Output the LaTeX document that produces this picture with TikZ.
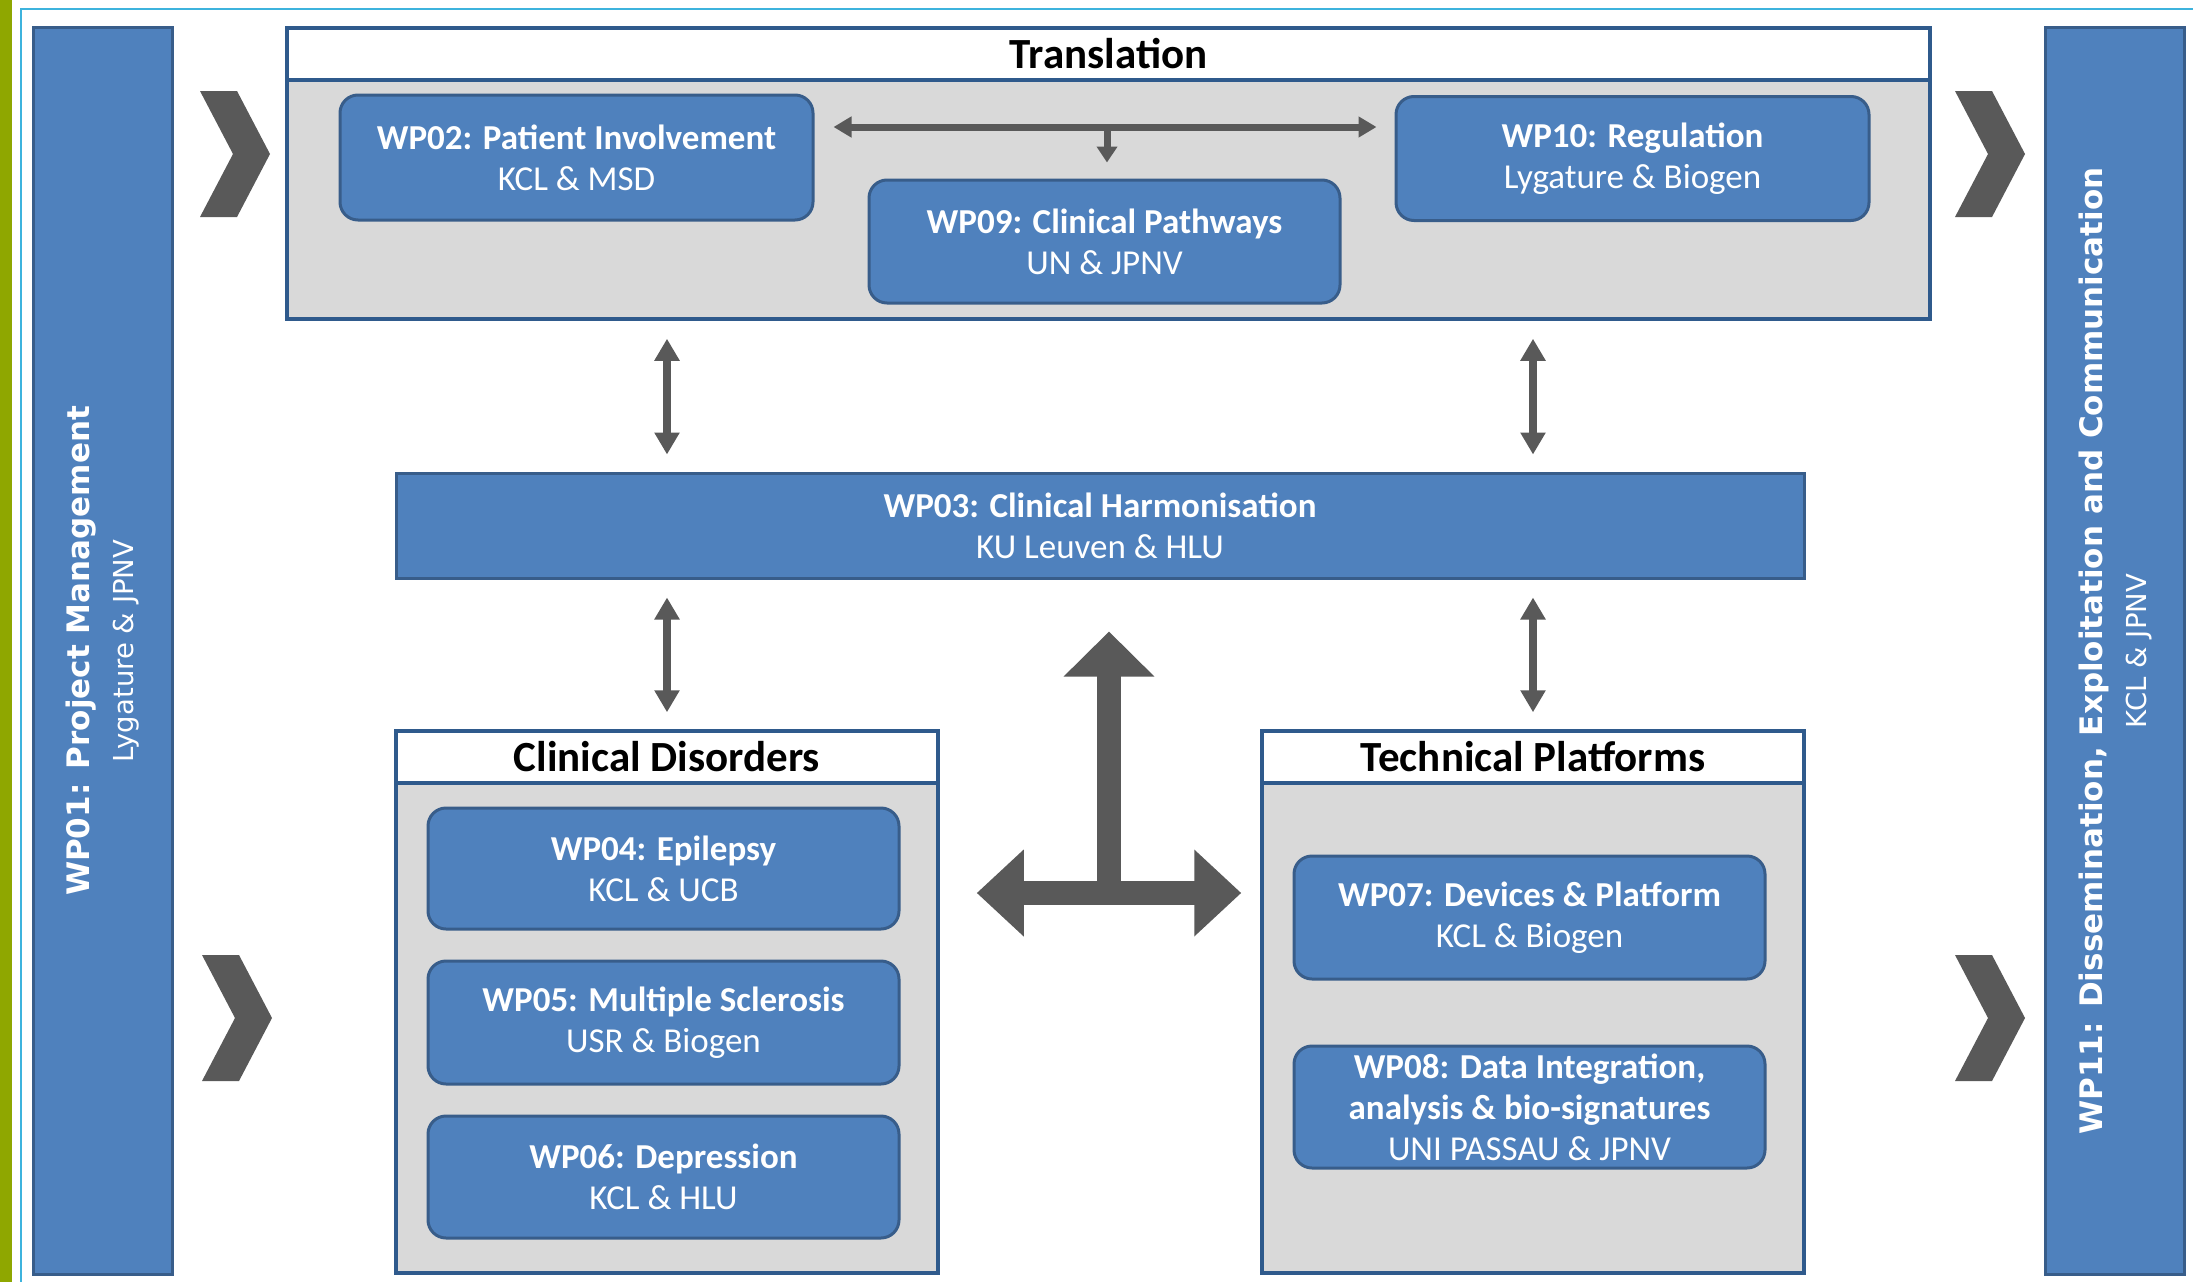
\documentclass[tikz,border=0pt]{standalone}
\usepackage{fontspec}
\setmainfont{Carlito}
\newfontfamily\vfont{DejaVu Sans}
\usetikzlibrary{arrows.meta,calc}
\definecolor{wpblue}{HTML}{4F81BD}
\definecolor{wpedge}{HTML}{385D8A}
\definecolor{boxedge}{HTML}{2F5A8C}
\definecolor{panelgray}{HTML}{D9D9D9}
\definecolor{arrgray}{HTML}{595959}
\definecolor{barGreen}{HTML}{8FA700}
\definecolor{frameblue}{HTML}{3DB3DD}
\newcommand\chevat[2]{\fill[arrgray] (#1,#2) -- ++(37,0) -- ++(33,63) -- ++(-33,63) -- ++(-37,0) -- ++(33,-63) -- cycle;}
\begin{document}
\begin{tikzpicture}[x=1pt,y=-1pt,
  wpbox/.style={draw=wpedge, fill=wpblue, line width=3pt, rounded corners=18pt, text=white, align=center, inner sep=0pt, font=\fontsize{35}{41}\selectfont},
  wpflat/.style={wpbox, rounded corners=0pt},
  panel/.style={draw=boxedge, fill=panelgray, line width=3.5pt, inner sep=0pt},
  panelhead/.style={draw=boxedge, fill=white, line width=3.5pt, inner sep=0pt, text=black, font=\fontsize{43}{50}\selectfont\bfseries},
  sidebar/.style={draw=wpedge, fill=wpblue, line width=3pt, inner sep=0pt},
  sidetext/.style={text=white, align=center, rotate=90, font=\vfont\fontsize{31}{44}\selectfont},
  thinarr/.style={draw=arrgray, line width=8pt, {Triangle[width=24pt,length=22pt]}-{Triangle[width=24pt,length=22pt]}, shorten <=18pt, shorten >=17pt},
  midarr/.style={draw=arrgray, line width=7pt},
  bigarr/.style={draw=arrgray, line width=24pt}
]
\useasboundingbox (0,0) rectangle (2193,1282);
\fill[white] (0,0) rectangle (2193,1282);
\fill[barGreen] (0,0) rectangle (12,1282);
\draw[frameblue, line width=2.5pt] (21,1282) -- (21,9) -- (2193,9);

% side bars
\node[sidebar, minimum width=139pt, minimum height=1247pt] (wp01) at (102.5,651) {};
\node[sidetext] at (wp01.center) {\bfseries WP01: Project Management\\{\fontsize{27.5}{31}\selectfont Lygature \& JPNV}};
\node[sidebar, minimum width=139pt, minimum height=1247pt] (wp11) at (2115,651) {};
\node[sidetext] at (wp11.center) {\bfseries WP11: Dissemination, Exploitation and Communication\\{\fontsize{27.5}{31}\selectfont KCL \& JPNV}};

% chevrons
\chevat{200}{91}
\chevat{202}{955}
\chevat{1955}{91}
\chevat{1955}{955}

% Translation panel
\node[panel, minimum width=1643pt, minimum height=291pt] (trans) at (1108.5,173.5) {};
\node[panelhead, minimum width=1643pt, minimum height=52pt, anchor=north] (transh) at (trans.north) {Translation};
\node[wpbox, minimum width=473pt, minimum height=125pt] (wp02) at (576.5,157.5) {\textbf{WP02: Patient Involvement}\\KCL \& MSD};
\node[wpbox, minimum width=473pt, minimum height=124pt] (wp10) at (1632.5,158.5) {\textbf{WP10: Regulation}\\Lygature \& Biogen};
\node[wpbox, minimum width=471pt, minimum height=123pt] (wp09) at (1104.5,241.5) {\textbf{WP09: Clinical Pathways}\\UN \& JPNV};

% WP03
\node[wpflat, minimum width=1408pt, minimum height=105pt] (wp03) at (1100,525.5) {\textbf{WP03: Clinical Harmonisation}\\KU Leuven \& HLU};

% Clinical Disorders
\node[panel, minimum width=542pt, minimum height=542pt] (cd) at (667,1002) {};
\node[panelhead, minimum width=542pt, minimum height=52pt, anchor=north] (cdh) at (cd.north) {Clinical Disorders};
\node[wpbox, minimum width=471pt, minimum height=121pt] (wp04) at (663.5,868.5) {\textbf{WP04: Epilepsy}\\KCL \& UCB};
\node[wpbox, minimum width=471pt, minimum height=123pt] (wp05) at (663.5,1022.5) {\textbf{WP05: Multiple Sclerosis}\\USR \& Biogen};
\node[wpbox, minimum width=471pt, minimum height=122pt] (wp06) at (663.5,1177) {\textbf{WP06: Depression}\\KCL \& HLU};

% Technical Platforms
\node[panel, minimum width=542pt, minimum height=542pt] (tp) at (1533,1002) {};
\node[panelhead, minimum width=542pt, minimum height=52pt, anchor=north] (tph) at (tp.north) {Technical Platforms};
\node[wpbox, minimum width=471pt, minimum height=123pt] (wp07) at (1529.5,917.5) {\textbf{WP07: Devices \& Platform}\\KCL \& Biogen};
\node[wpbox, minimum width=471pt, minimum height=122pt] (wp08) at (1529.5,1107) {\textbf{WP08: Data Integration,}\\\textbf{analysis \& bio-signatures}\\UNI PASSAU \& JPNV};

% arrows in Translation
\coordinate (hy) at (0,127);
\coordinate (hj) at (1107,127);
\draw[midarr, {Triangle[width=20pt,length=18pt]}-{Triangle[width=20pt,length=18pt]}, shorten <=19pt, shorten >=18pt] (wp02.east |- hy) -- (wp10.west |- hy);
\draw[midarr, -{Triangle[width=20pt,length=16pt]}, shorten >=16pt] (hj) -- (wp09.north -| hj);

% thin vertical double arrows
\draw[thinarr] (trans.south -| cd.north) -- (wp03.north -| cd.north);
\draw[thinarr] (trans.south -| tp.north) -- (wp03.north -| tp.north);
\draw[thinarr] (wp03.south -| cd.north) -- (cdh.north);
\draw[thinarr] (wp03.south -| tp.north) -- (tph.north);

% big T arrow
\coordinate (tj) at (1109,893);
\draw[bigarr, -{Triangle[width=88pt,length=45pt]}, shorten >=52pt] (tj) -- (wp03.south -| tj);
\draw[bigarr, {Triangle[width=84pt,length=47pt]}-{Triangle[width=84pt,length=47pt]}, shorten <=37pt, shorten >=19pt] (cd.east |- tj) -- (tp.west |- tj);
\end{tikzpicture}
\end{document}
